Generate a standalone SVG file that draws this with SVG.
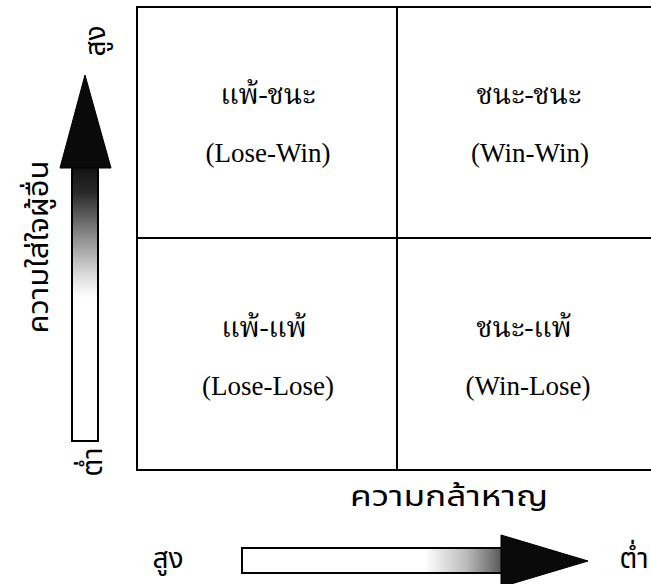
<svg xmlns="http://www.w3.org/2000/svg" width="651" height="584" viewBox="0 0 651 584">
  <style>
    .grid { stroke: #000; stroke-width: 2; fill: none; }
    .qth { font-family: "Noto Serif Thai", "Noto Sans Thai", "Liberation Serif", serif; font-size: 28px; fill: #000; text-anchor: middle; }
    .qen { font-family: "Liberation Serif", "Times New Roman", serif; font-size: 27px; fill: #000; text-anchor: middle; }
    .axis { font-family: "Noto Sans Thai", "DejaVu Sans", "Noto Sans", sans-serif; font-size: 28px; fill: #000; text-anchor: middle; }
    .shaft { stroke: #000; stroke-width: 2; }
    .head { fill: #0a0a0a; stroke: #000; stroke-width: 1; }
  </style>
  <defs>
    <linearGradient id="vFade" x1="0" y1="0" x2="0" y2="1">
      <stop offset="0" stop-color="#111"/>
      <stop offset="0.1" stop-color="#2a2a2a"/>
      <stop offset="0.25" stop-color="#888"/>
      <stop offset="0.4" stop-color="#ddd"/>
      <stop offset="0.48" stop-color="#fff"/>
      <stop offset="1" stop-color="#fff"/>
    </linearGradient>
    <linearGradient id="hFade" x1="0" y1="0" x2="1" y2="0">
      <stop offset="0" stop-color="#fff"/>
      <stop offset="0.7" stop-color="#fff"/>
      <stop offset="0.86" stop-color="#bbb"/>
      <stop offset="1" stop-color="#555"/>
    </linearGradient>
  </defs>

  <rect width="651" height="584" fill="#fff"/>

  <!-- 2x2 matrix frame -->
  <g id="matrix">
    <path class="grid" d="M651,7 H137 V470 H651"/>
    <line class="grid" x1="397" y1="7" x2="397" y2="470"/>
    <line class="grid" x1="137" y1="238" x2="651" y2="238"/>
  </g>

  <g id="lose-win">
    <text class="qth" x="268" y="104">แพ้-ชนะ</text>
    <text class="qen" x="268" y="162">(Lose-Win)</text>
  </g>
  <g id="win-win">
    <text class="qth" x="529" y="104">ชนะ-ชนะ</text>
    <text class="qen" x="530" y="162">(Win-Win)</text>
  </g>
  <g id="lose-lose">
    <text class="qth" x="264" y="337">แพ้-แพ้</text>
    <text class="qen" x="268" y="395">(Lose-Lose)</text>
  </g>
  <g id="win-lose">
    <text class="qth" x="524" y="337">ชนะ-แพ้</text>
    <text class="qen" x="528" y="395">(Win-Lose)</text>
  </g>

  <!-- vertical axis: concern for others -->
  <g id="axis-y">
    <rect class="shaft" x="72" y="166" width="26" height="275" fill="url(#vFade)"/>
    <polygon class="head" points="85,75 111,168 60,168"/>
    <text class="axis" transform="translate(48,247) rotate(-90)" textLength="173" lengthAdjust="spacingAndGlyphs">ความใส่ใจผู้อื่น</text>
    <text class="axis" transform="translate(105,41) rotate(-90)">สูง</text>
    <text class="axis" transform="translate(102,462) rotate(-90)">ต่ำ</text>
  </g>

  <!-- horizontal axis: assertiveness -->
  <g id="axis-x">
    <rect class="shaft" x="242" y="548" width="261" height="25" fill="url(#hFade)"/>
    <polygon class="head" points="501,535 588,561 501,587"/>
    <text class="axis" x="449" y="506" textLength="198" lengthAdjust="spacingAndGlyphs">ความกล้าหาญ</text>
    <text class="axis" x="168" y="568">สูง</text>
    <text class="axis" x="634" y="568">ต่ำ</text>
  </g>
</svg>
